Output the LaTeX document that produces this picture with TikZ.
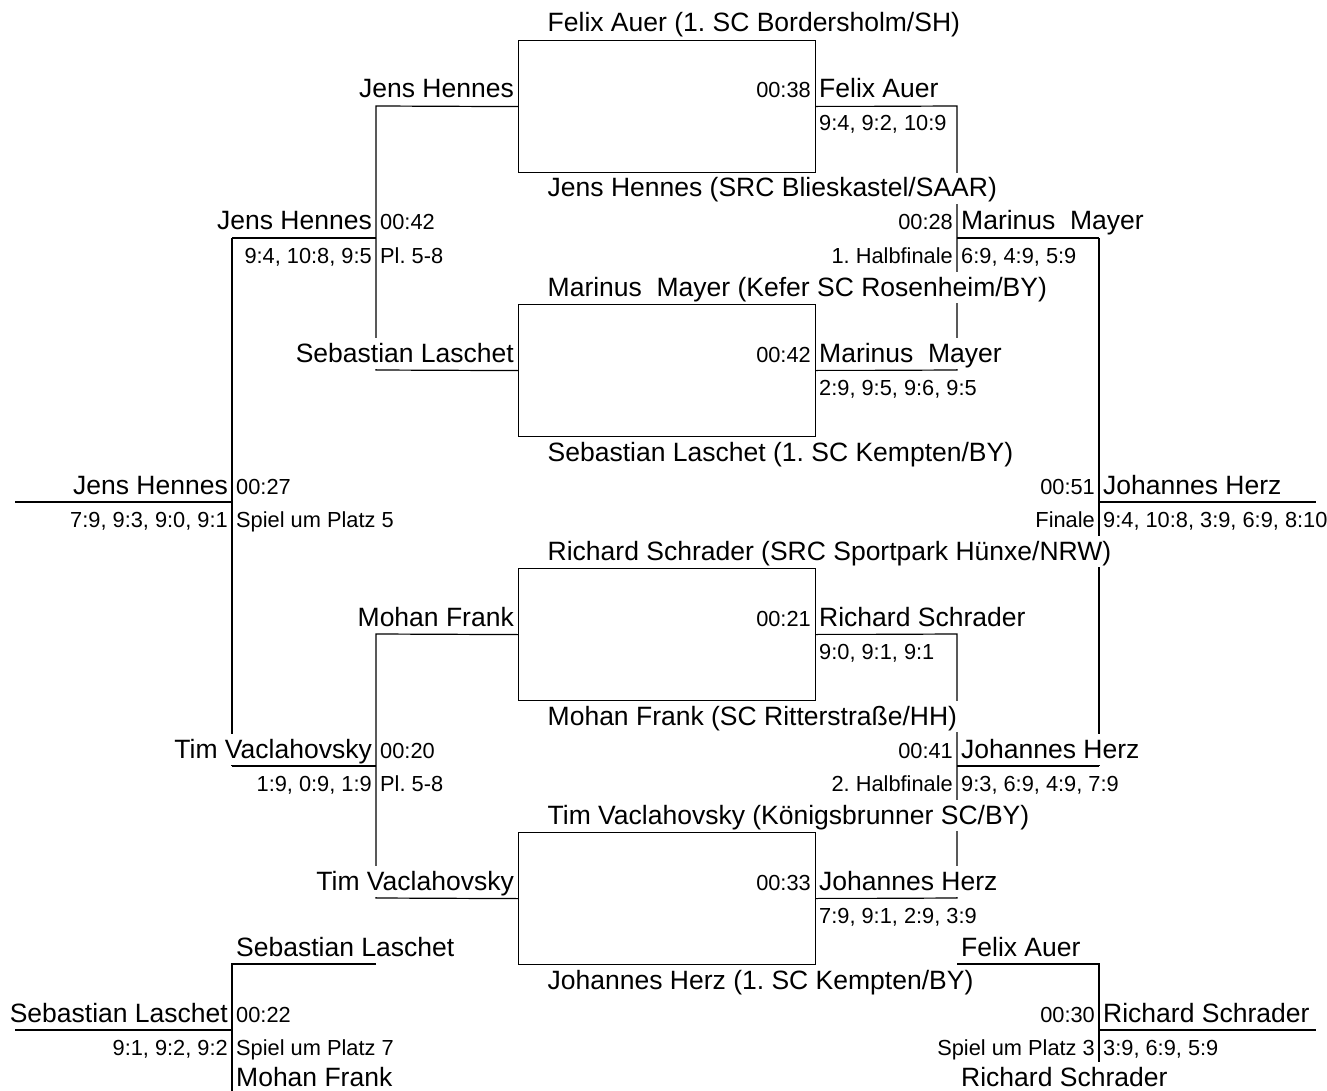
\documentclass[tikz,border=0pt]{standalone}
\usepackage{fontspec}
\setmainfont{Liberation Sans}
\usetikzlibrary{backgrounds}
\frenchspacing
\begin{document}
\frenchspacing
\begin{tikzpicture}[x=1pt,y=-1pt,
  ln/.style={line width=1.2pt, black},
  txt/.style={inner sep=0pt, inner xsep=1pt, fill=white, text height=24pt, text depth=7pt},
  big/.style={txt, font=\fontsize{26.5}{30}\selectfont\frenchspacing},
  sml/.style={txt, font=\fontsize{21.8}{25}\selectfont\frenchspacing},
  lft/.style={anchor=base west},
  rgt/.style={anchor=base east},
  matchbox/.style={draw, line width=1.2pt, minimum width=297pt, minimum height=132pt, inner sep=0pt, anchor=north west}]
\useasboundingbox (0,0) rectangle (1327,1091);

% match boxes
\node[matchbox] (b1) at (518,40) {};
\node[matchbox] (b2) at (518,304) {};
\node[matchbox] (b3) at (518,568) {};
\node[matchbox] (b4) at (518,832) {};

% box labels
\node[big,lft] (l1) at (546.5,32) {Felix Auer (1. SC Bordersholm/SH)};
\node[big,lft] (l2) at (546.5,197) {Jens Hennes (SRC Blieskastel/SAAR)};
\node[big,lft] (l3) at (546.5,296) {Marinus\ \ Mayer (Kefer SC Rosenheim/BY)};
\node[big,lft] (l4) at (546.5,461) {Sebastian Laschet (1. SC Kempten/BY)};
\node[big,lft] (l5) at (546.5,560) {Richard Schrader (SRC Sportpark Hünxe/NRW)};
\node[big,lft] (l6) at (546.5,725) {Mohan Frank (SC Ritterstraße/HH)};
\node[big,lft] (l7) at (546.5,824) {Tim Vaclahovsky (Königsbrunner SC/BY)};
\node[big,lft] (l8) at (546.5,989) {Johannes Herz (1. SC Kempten/BY)};

% left side, column 3
\node[big,rgt] (n1) at (515,98) {Jens Hennes};
\node[big,rgt] (n2) at (515,362) {Sebastian Laschet};
\node[big,rgt] (n3) at (515,626) {Mohan Frank};
\node[big,rgt] (n4) at (515,890) {Tim Vaclahovsky};

% left side, column 2
\node[big,rgt] (n5) at (373,230) {Jens Hennes};
\node[sml,lft] (t5) at (379,230) {00:42};
\node[sml,rgt] (s5) at (373,263) {9:4, 10:8, 9:5};
\node[sml,lft] (r5) at (379,263) {Pl. 5-8};
\node[big,rgt] (n6) at (373,758) {Tim Vaclahovsky};
\node[sml,lft] (t6) at (379,758) {00:20};
\node[sml,rgt] (s6) at (373,791) {1:9, 0:9, 1:9};
\node[sml,lft] (r6) at (379,791) {Pl. 5-8};

% left side, column 1
\node[big,rgt] (n7) at (229,494) {Jens Hennes};
\node[sml,lft] (t7) at (235,494) {00:27};
\node[sml,rgt] (s7) at (229,527) {7:9, 9:3, 9:0, 9:1};
\node[sml,lft] (r7) at (235,527) {Spiel um Platz 5};
\node[big,lft] (n8) at (235,956) {Sebastian Laschet};
\node[big,rgt] (n9) at (229,1022) {Sebastian Laschet};
\node[sml,lft] (t9) at (235,1022) {00:22};
\node[sml,rgt] (s9) at (229,1055) {9:1, 9:2, 9:2};
\node[sml,lft] (r9) at (235,1055) {Spiel um Platz 7};
\node[big,lft] (n10) at (235,1086) {Mohan Frank};

% right side, column E
\node[sml,rgt] (te1) at (812,98) {00:38};
\node[big,lft] (ne1) at (818,98) {Felix Auer};
\node[sml,lft] (se1) at (818,131) {9:4, 9:2, 10:9};
\node[sml,rgt] (te2) at (812,362) {00:42};
\node[big,lft] (ne2) at (818,362) {Marinus\ \ Mayer};
\node[sml,lft] (se2) at (818,395) {2:9, 9:5, 9:6, 9:5};
\node[sml,rgt] (te3) at (812,626) {00:21};
\node[big,lft] (ne3) at (818,626) {Richard Schrader};
\node[sml,lft] (se3) at (818,659) {9:0, 9:1, 9:1};
\node[sml,rgt] (te4) at (812,890) {00:33};
\node[big,lft] (ne4) at (818,890) {Johannes Herz};
\node[sml,lft] (se4) at (818,923) {7:9, 9:1, 2:9, 3:9};

% right side, column F
\node[sml,rgt] (tf1) at (954,230) {00:28};
\node[big,lft] (nf1) at (960,230) {Marinus\ \ Mayer};
\node[sml,rgt] (rf1) at (954,263) {1. Halbfinale};
\node[sml,lft] (sf1) at (960,263) {6:9, 4:9, 5:9};
\node[sml,rgt] (tf2) at (954,758) {00:41};
\node[big,lft] (nf2) at (960,758) {Johannes Herz};
\node[sml,rgt] (rf2) at (954,791) {2. Halbfinale};
\node[sml,lft] (sf2) at (960,791) {9:3, 6:9, 4:9, 7:9};
\node[big,lft] (nf3) at (960,956) {Felix Auer};
\node[big,lft] (nf4) at (960,1086) {Richard Schrader};

% right side, column G
\node[sml,rgt] (tg1) at (1096,494) {00:51};
\node[big,lft] (ng1) at (1102,494) {Johannes Herz};
\node[sml,rgt] (rg1) at (1096,527) {Finale};
\node[sml,lft] (sg1) at (1102,527) {9:4, 10:8, 3:9, 6:9, 8:10};
\node[sml,rgt] (tg2) at (1096,1022) {00:30};
\node[big,lft] (ng2) at (1102,1022) {Richard Schrader};
\node[sml,rgt] (rg2) at (1096,1055) {Spiel um Platz 3};
\node[sml,lft] (sg2) at (1102,1055) {3:9, 6:9, 5:9};

% junction coordinates
\coordinate (cA1) at (376,106);
\coordinate (cA2) at (376,370);
\coordinate (cA3) at (376,238);
\coordinate (cB1) at (232,238);
\coordinate (cA4) at (376,634);
\coordinate (cA5) at (376,898);
\coordinate (cA6) at (376,766);
\coordinate (cB2) at (232,766);
\coordinate (cB3) at (232,502);
\coordinate (cX1) at (15,502);
\coordinate (cA7) at (376,964);
\coordinate (cB4) at (232,964);
\coordinate (cB5) at (232,1091);
\coordinate (cB6) at (232,1030);
\coordinate (cX2) at (15,1030);
\coordinate (cF1) at (957,106);
\coordinate (cF2) at (957,370);
\coordinate (cF3) at (957,238);
\coordinate (cG1) at (1099,238);
\coordinate (cF4) at (957,634);
\coordinate (cF5) at (957,898);
\coordinate (cF6) at (957,766);
\coordinate (cG2) at (1099,766);
\coordinate (cG3) at (1099,502);
\coordinate (cH1) at (1316,502);
\coordinate (cF7) at (957,964);
\coordinate (cG4) at (1099,964);
\coordinate (cG5) at (1099,1091);
\coordinate (cG6) at (1099,1030);
\coordinate (cH2) at (1316,1030);

\begin{scope}[on background layer]
\fill[white] (0,0) rectangle (1327,1091);
% left side
\draw[ln] (b1.west) -- (cA1) -- (cA2) -- (b2.west);
\draw[ln] (cA3) -- (cB1);
\draw[ln] (b3.west) -- (cA4) -- (cA5) -- (b4.west);
\draw[ln] (cA6) -- (cB2);
\draw[ln] (cB1) -- (cB2);
\draw[ln] (cB3) -- (cX1);
\draw[ln] (cA7) -- (cB4) -- (cB5);
\draw[ln] (cB6) -- (cX2);
% right side
\draw[ln] (b1.east) -- (cF1) -- (cF2) -- (b2.east);
\draw[ln] (cF3) -- (cG1);
\draw[ln] (b3.east) -- (cF4) -- (cF5) -- (b4.east);
\draw[ln] (cF6) -- (cG2);
\draw[ln] (cG1) -- (cG2);
\draw[ln] (cG3) -- (cH1);
\draw[ln] (cF7) -- (cG4) -- (cG5);
\draw[ln] (cG6) -- (cH2);
\end{scope}
\end{tikzpicture}
\end{document}
